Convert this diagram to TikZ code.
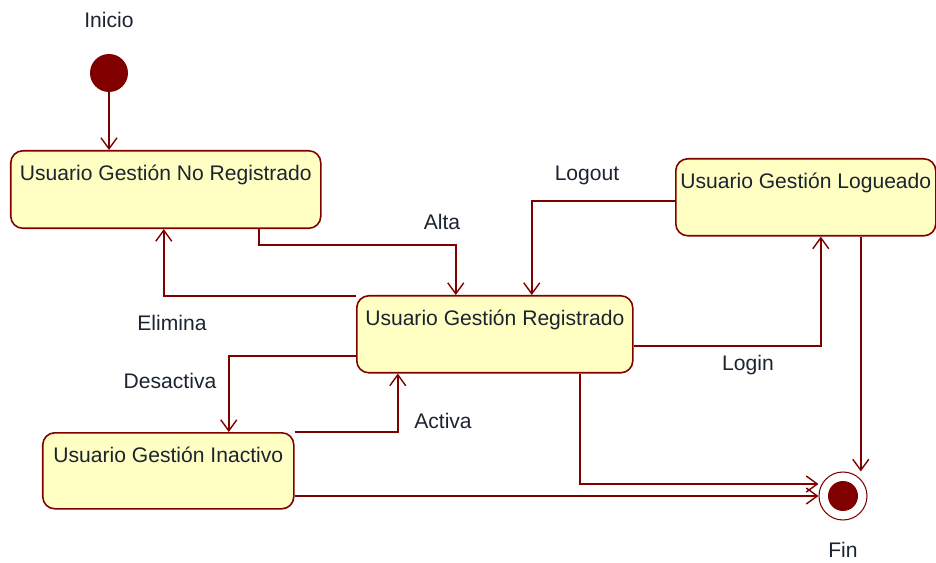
\documentclass[tikz,border=0pt]{standalone}
\usepackage{fontspec}
\setmainfont{Liberation Sans}
\usepackage{xcolor}
\usetikzlibrary{arrows.meta,positioning,calc}
\definecolor{umlred}{HTML}{800000}
\definecolor{umlfill}{HTML}{FFFFC4}
\definecolor{umltext}{HTML}{1C2430}

\begin{document}
\begin{tikzpicture}[
  stateblock/.style={rectangle, draw=umlred, fill=umlfill, line width=0.9pt, rounded corners=0.24cm,
    inner sep=0pt, text height=0.6cm, text depth=0.95cm, anchor=north west, font=\fontsize{12}{14}\selectfont, text=umltext},
  trans/.style={draw=umlred, line width=0.9pt, -{Straight Barb[length=0.22cm, width=0.32cm, line width=0.8pt]}},
  lbl/.style={font=\fontsize{12}{14}\selectfont, text=umltext},
  >=Stealth
]
\useasboundingbox (0,0) rectangle (18.72,-11.26);

% Initial and final states
\node[circle, fill=umlred, minimum size=0.76cm, inner sep=0pt] (init) at (2.18,-1.46) {};
\node[lbl, above=0.4cm of init] (inicio) {Inicio};
\node[circle, draw=umlred, fill=white, line width=0.6pt, minimum size=0.96cm, inner sep=0pt] (fin) at (16.86,-9.92) {};
\node[circle, fill=umlred, minimum size=0.6cm, inner sep=0pt] at (fin) {};
\node[lbl, below=0.3cm of fin] (finlbl) {Fin};

% States
\node[stateblock, minimum width=6.2cm] (noreg) at (0.2,-3.0) {Usuario Gestión No Registrado};
\node[stateblock, minimum width=5.2cm, text depth=0.94cm] (logueado) at (13.5,-3.16) {Usuario Gestión Logueado};
\node[stateblock, minimum width=5.52cm, text depth=0.94cm] (registrado) at (7.12,-5.9) {Usuario Gestión Registrado};
\node[stateblock, minimum width=5.02cm, text depth=0.92cm] (inactivo) at (0.84,-8.64) {Usuario Gestión Inactivo};

% Transitions
\draw[trans] (init.south) -- (init.south |- noreg.north);
\draw[trans] ([xshift=1.86cm]noreg.south) |- ([xshift=-0.78cm, yshift=1cm]registrado.north) -- ([xshift=-0.78cm]registrado.north);
\draw[trans] ([yshift=-0.02cm]registrado.north west) -| ([xshift=-0.04cm]noreg.south);
\draw[trans] ([yshift=-0.07cm]logueado.west) -| ([xshift=0.74cm]registrado.north);
\draw[trans] ([yshift=-0.23cm]registrado.east) -| ([xshift=0.3cm]logueado.south);
\draw[trans] ([yshift=-0.43cm]registrado.west) -| ([xshift=1.21cm]inactivo.north);
\draw[trans] (inactivo.north east) -| ([xshift=-1.94cm]registrado.south);
\draw[trans] ([xshift=1.7cm]registrado.south) |- ([yshift=0.24cm]fin.west);
\draw[trans] (inactivo.east |- fin.west) -- (fin.west);
\draw[trans] ([xshift=1.1cm]logueado.south) -- ([xshift=1.1cm]logueado.south |- fin.north);

% Labels
\node[lbl] (alta) at (8.84,-4.44) {Alta};
\node[lbl] (logout) at (11.74,-3.5) {Logout};
\node[lbl] (elimina) at (3.44,-6.46) {Elimina};
\node[lbl] (login) at (14.96,-7.3) {Login};
\node[lbl] (desactiva) at (3.4,-7.62) {Desactiva};
\node[lbl] (activa) at (8.86,-8.42) {Activa};
\end{tikzpicture}
\end{document}
